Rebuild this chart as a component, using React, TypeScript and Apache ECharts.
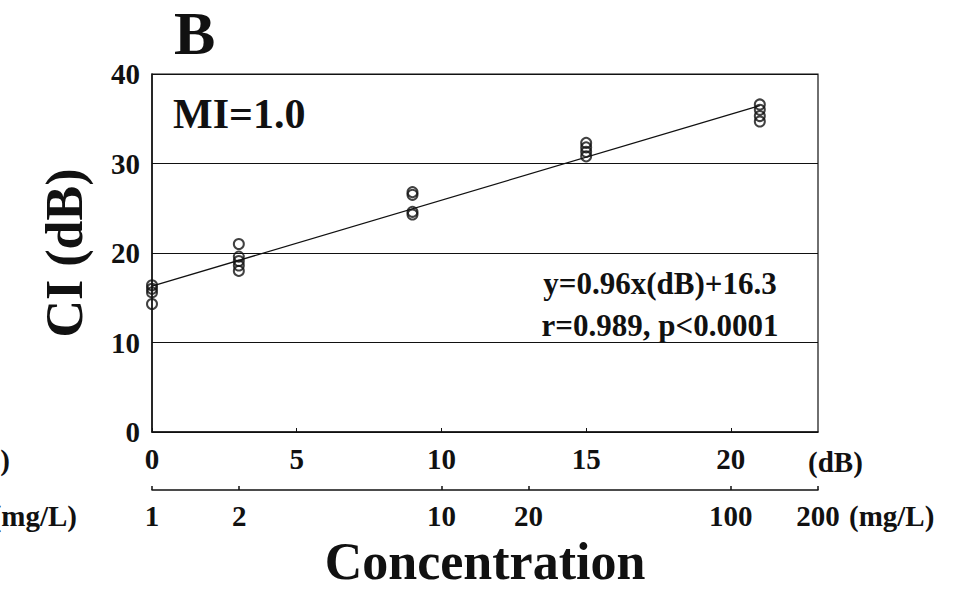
import React, { useEffect, useRef } from "react";
import * as echarts from "echarts";

// x positions of the measured groups (dB)
const xGroups: number[] = [0, 3, 9, 15, 21];
// CI (dB) values measured at each group
const ciValues: number[][] = [
  [16.4, 16.0, 15.6, 14.3],
  [21.0, 19.6, 19.1, 18.6, 18.0],
  [26.8, 26.5, 24.6, 24.3],
  [32.3, 31.8, 31.3, 30.8],
  [36.6, 36.0, 35.3, 34.7],
];
// regression
const slope = 0.96;
const intercept = 16.3;
const fitRange: number[] = [0, 21];
// axis ticks
const dbTicks: number[] = [0, 5, 10, 15, 20];
const concTicks: number[] = [1, 2, 10, 20, 100, 200];
const yTicks: number[] = [0, 10, 20, 30, 40];

const FONT = "'Liberation Serif', 'DejaVu Serif', serif";
const INK = "#111";
const TICK_FONT = 29;

export default function App() {
  const ref = useRef<HTMLDivElement>(null);
  useEffect(() => {
    if (!ref.current) return;
    const chart = echarts.init(ref.current, undefined, { renderer: "svg" });
    const toDb = (c: number) => 10 * Math.log10(c);
    const xMax = toDb(concTicks[concTicks.length - 1]);
    const points: number[][] = [];
    xGroups.forEach((x, i) => ciValues[i].forEach((v) => points.push([x, v])));
    const labelStyle = {
      fontFamily: FONT,
      fontWeight: "bold",
      fontSize: TICK_FONT,
      color: INK,
    };
    chart.setOption({
      animation: false,
      backgroundColor: "#fff",
      grid: {
        left: 152,
        top: 74,
        right: 142,
        bottom: 158,
        containLabel: false,
        outerBoundsMode: "none",
        show: true,
        borderColor: INK,
        borderWidth: 1.2,
        backgroundColor: "transparent",
      },
      xAxis: [
        {
          type: "value",
          min: 0,
          max: xMax,
          position: "bottom",
          axisLine: { show: true, lineStyle: { color: INK, width: 1.5 } },
          axisTick: { show: true, inside: true, length: 4, customValues: dbTicks, lineStyle: { color: INK } },
          axisLabel: { customValues: dbTicks, margin: 12, ...labelStyle },
          splitLine: { show: false },
        },
        {
          type: "value",
          min: 0,
          max: xMax,
          position: "bottom",
          offset: 58,
          axisLine: { show: true, onZero: false, lineStyle: { color: INK, width: 1.5 } },
          axisTick: {
            show: true,
            inside: true,
            length: 4,
            customValues: concTicks.map(toDb),
            lineStyle: { color: INK, width: 1.5 },
          },
          axisLabel: {
            customValues: concTicks.map(toDb),
            formatter: (v: number) => String(Math.round(Math.pow(10, v / 10))),
            margin: 11,
            ...labelStyle,
          },
          splitLine: { show: false },
          name: "Concentration",
          nameLocation: "middle",
          nameGap: 45,
          nameTextStyle: { fontFamily: FONT, fontWeight: "bold", fontSize: 52, lineHeight: 52, color: INK },
        },
      ],
      yAxis: {
        type: "value",
        min: 0,
        max: 40,
        interval: 10,
        axisLine: { show: true, lineStyle: { color: INK, width: 1.5 } },
        axisTick: { show: false },
        axisLabel: { customValues: yTicks, margin: 12, ...labelStyle },
        splitLine: { show: true, lineStyle: { color: INK, width: 1 } },
        name: "CI (dB)",
        nameLocation: "middle",
        nameGap: 62,
        nameRotate: 90,
        nameTextStyle: { fontFamily: FONT, fontWeight: "bold", fontSize: 52, color: INK },
      },
      series: [
        {
          type: "line",
          xAxisIndex: 0,
          data: fitRange.map((x) => [x, intercept + slope * x]),
          symbol: "none",
          lineStyle: { color: INK, width: 1.3 },
          z: 3,
        },
        {
          type: "scatter",
          xAxisIndex: 0,
          data: points,
          symbol: "circle",
          symbolSize: 10,
          itemStyle: { color: "transparent", borderColor: INK, borderWidth: 2 },
          z: 4,
        },
      ],
      graphic: [
        {
          type: "text",
          left: 174,
          top: 2,
          style: { text: "B", fontFamily: FONT, fontWeight: "bold", fontSize: 62, fill: INK },
        },
        {
          type: "text",
          left: 173,
          top: 93,
          style: { text: "MI=1.0", fontFamily: FONT, fontWeight: "bold", fontSize: 42, fill: INK },
        },
        {
          type: "text",
          x: 660,
          y: 283,
          style: {
            text: "y=0.96x(dB)+16.3",
            fontFamily: FONT,
            fontWeight: "bold",
            fontSize: 31,
            fill: INK,
            align: "center",
            verticalAlign: "middle",
          },
        },
        {
          type: "text",
          x: 660,
          y: 325,
          style: {
            text: "r=0.989, p<0.0001",
            fontFamily: FONT,
            fontWeight: "bold",
            fontSize: 31,
            fill: INK,
            align: "center",
            verticalAlign: "middle",
          },
        },
        {
          type: "text",
          x: 808,
          y: 462,
          style: { text: "(dB)", fontFamily: FONT, fontWeight: "bold", fontSize: TICK_FONT, fill: INK, verticalAlign: "middle" },
        },
        {
          type: "text",
          x: 849,
          y: 516,
          style: { text: "(mg/L)", fontFamily: FONT, fontWeight: "bold", fontSize: TICK_FONT, fill: INK, verticalAlign: "middle" },
        },
        {
          type: "text",
          x: 10,
          y: 460,
          style: { text: "(dB)", fontFamily: FONT, fontWeight: "bold", fontSize: TICK_FONT, fill: INK, align: "right", verticalAlign: "middle" },
        },
        {
          type: "text",
          x: 77,
          y: 516,
          style: { text: "(mg/L)", fontFamily: FONT, fontWeight: "bold", fontSize: TICK_FONT, fill: INK, align: "right", verticalAlign: "middle" },
        },
      ],
    });
    return () => chart.dispose();
  }, []);
  return (
    <div
      ref={ref}
      style={{ position: "fixed", left: 0, top: 0, width: 960, height: 590, background: "#fff" }}
    />
  );
}
